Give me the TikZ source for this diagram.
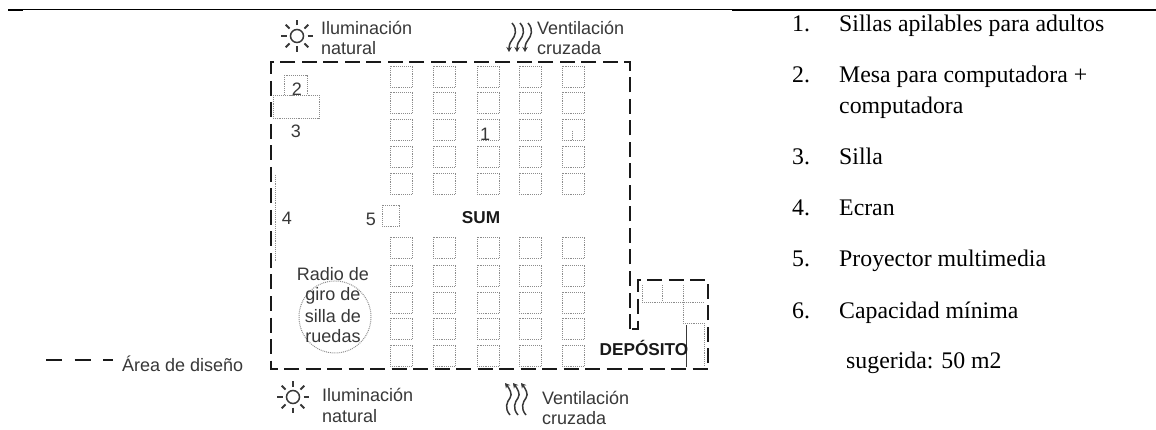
\documentclass[tikz,border=0pt]{standalone}
\usepackage{fontspec}
\setmainfont{Liberation Serif}
\newfontfamily\lsans{Liberation Sans}
\usetikzlibrary{arrows.meta}
\definecolor{chairc}{gray}{0.55}
\definecolor{inkc}{gray}{0.22}
\tikzset{
  x=1pt,y=-1pt,
  chair/.style={draw=chairc,line width=0.9pt,densely dotted},
  boundary/.style={draw=black!90,line width=2pt,dash pattern=on 15pt off 6.5pt},
  lab/.style={font=\lsans\fontsize{18}{20}\selectfont,text=inkc,inner sep=0pt,anchor=base west},
  plabel/.style={font=\lsans\fontsize{18}{20}\selectfont,text=inkc,inner sep=0pt,anchor=base},
  blabel/.style={font=\lsans\bfseries\fontsize{17.2}{20}\selectfont,text=black!90,inner sep=0pt,anchor=base},
  listnum/.style={font=\fontsize{23.8}{26}\selectfont,inner sep=0pt,anchor=base west},
  rulethin/.style={draw=black,line width=1pt},
  rulethick/.style={draw=black,line width=2.2pt},
  ray/.style={draw=inkc,line width=1.8pt},
  wavetip/.style={draw=inkc,line width=1.5pt,-{Stealth[length=5pt,width=5.5pt]}}
}
\newcommand{\sunicon}[2]{%
  \begin{scope}[shift={(#1,#2)}]
    \draw[ray,line width=1.5pt] (0,0) circle[radius=6.5];
    \foreach \a in {0,45,...,315}{\draw[ray] (\a:10.5) -- (\a:16);}
  \end{scope}}
\begin{document}
\begin{tikzpicture}
\useasboundingbox (0,0) rectangle (1156,430);
\fill[white] (0,0) rectangle (1156,430);
% rules
\coordinate (ruleA) at (8,9.5);
\coordinate (ruleB) at (732,9.5);
\coordinate (ruleC) at (732,10.4);
\coordinate (ruleD) at (1156,10.4);
\coordinate (ruleE) at (8,10.4);
\coordinate (ruleF) at (23,10.4);
\draw[rulethin] (ruleA) -- (ruleB);
\draw[rulethick] (ruleC) -- (ruleD);
\draw[rulethick] (ruleE) -- (ruleF);
% boundary
\draw[boundary] (630,329) -- (630,62) -- (271,62) -- (271,369) -- (708,369) -- (708,280) -- (638,280) -- (638,329) -- cycle;
% chairs
\foreach \cx in {390,433,477,519,562}{
  \foreach \cy in {66,92,119,146,173,237,265,292,318,345}{
    \draw[chair] (\cx,\cy) rectangle +(22.5,21);
  }
}
% item furniture
\draw[chair] (284,75) rectangle (307,95);
\draw[chair] (273,95) rectangle (319,118);
\draw[chair] (382,205) rectangle (399,226);
\draw[chair] (275,175) -- (275,262);
\draw[chair,line width=1pt] (335,317) circle[radius=36];
% deposit inside
\draw[chair] (642,285) -- (642,302) -- (704,302);
\draw[chair] (662,285) -- (662,302);
\draw[chair] (683,285) -- (683,323) -- (704,323);
\draw[chair] (704,323) -- (704,365);
\draw[draw=inkc,line width=1pt] (686,325) -- (686,367);
\draw[chair] (572,131) -- (572,139);
% labels
\node[plabel] (n2) at (297,96) {2};
\node[plabel] (n3) at (296,138) {3};
\node[plabel] (n1) at (485,141) {1};
\node[plabel] (n4) at (287,225) {4};
\node[plabel] (n5) at (371,226) {5};
\node[blabel] (sum) at (481,224) {SUM};
\node[plabel] (r1) at (333,280) {Radio de};
\node[plabel] (r2) at (333,300) {giro de};
\node[plabel] (r3) at (333,322) {silla de};
\node[plabel] (r4) at (333,342) {ruedas};
\node[blabel] (dep) at (644,355) {DEPÓSITO};
% icons
\sunicon{297}{36}
\sunicon{293}{397}
\node[lab] (il1) at (321,35) {Iluminación};
\node[lab] (il2) at (321,55) {natural};
\node[lab] (il3) at (322,401) {Iluminación};
\node[lab] (il4) at (322,422) {natural};
\node[lab] (ve1) at (537,35) {Ventilación};
\node[lab] (ve2) at (537,55) {cruzada};
\node[lab] (ve3) at (542,404) {Ventilación};
\node[lab] (ve4) at (542,424) {cruzada};
% ventilation arrows
\foreach \dx in {0,8,16}{
  \begin{scope}[shift={(\dx,0)}]
    \draw[wavetip] (512,23) .. controls (518,30) and (515,36) .. (512,40) .. controls (509,44) and (509,47) .. (509,52);
    \draw[wavetip] (510,415) .. controls (504,408) and (507,402) .. (510,398) .. controls (513,394) and (509,388) .. (505,383);
  \end{scope}
}
% legend
\coordinate (lega) at (46,360);
\coordinate (legb) at (113,360);
\draw[draw=black!90,line width=2.2pt,dash pattern=on 16pt off 12.5pt] (lega) -- (legb);
\node[lab] (leg) at (122,371) {Área de diseño};
% list
\foreach \n/\t/\yy in {1./Sillas apilables para adultos/32,2./Mesa para computadora +/83,3./Silla/165,4./Ecran/216,5./Proyector multimedia/267,6./Capacidad mínima/318}{
  \node[listnum] at (792,\yy) {\n};
  \node[listnum] at (839,\yy) {\t};
}
\node[listnum] (comp) at (839,114) {computadora};
\node[listnum] (sug) at (846,368) {sugerida: 50 m2};
\end{tikzpicture}
\end{document}
